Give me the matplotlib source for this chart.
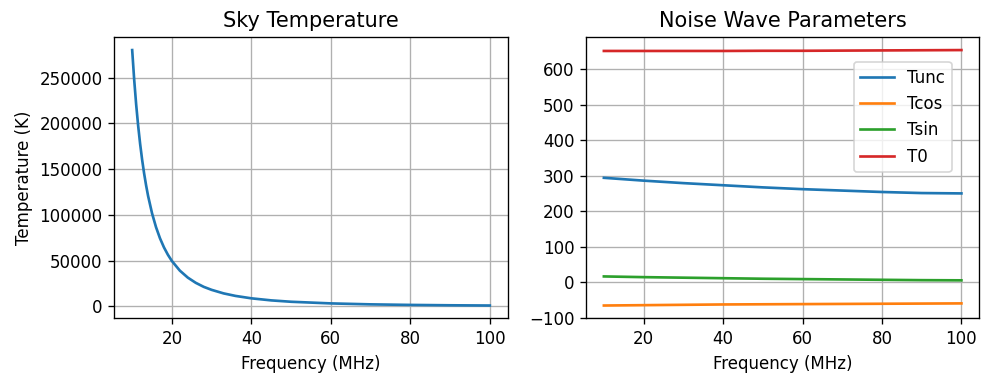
import matplotlib
matplotlib.use("Agg")
import matplotlib.pyplot as plt

# Sky temperature
sky_freq = [10, 10.5, 11, 11.5, 12, 12.5, 13, 13.5, 14, 15, 16, 17, 18, 19,
            20, 22, 24, 26, 28, 30, 33, 36, 40, 45, 50, 60, 70, 80, 90, 100]
sky_temp = [280000, 247850, 220600, 197430, 177500, 160280, 145300, 132230,
            120700, 101600, 86500, 74310, 64400, 56270, 49500, 39000, 31380,
            25690, 21300, 18000, 14150, 11390, 8750, 6500, 5000, 3200, 2160,
            1550, 1150, 885]

# Noise wave parameters
nw_freq = [10, 20, 30, 40, 50, 60, 70, 80, 90, 100]
tunc = [294, 286, 279, 273, 267, 262, 258, 254, 251, 250]
tcos = [-66, -65, -64, -63, -62.5, -62, -61.5, -61, -60.5, -60]
tsin = [16, 14, 12.5, 11, 9.5, 8.5, 7.5, 6.5, 5.5, 5]
t0 = [651.5, 651.5, 651.5, 651.5, 652, 652, 652.5, 653, 653.5, 654]


def main():
    plt.rcParams.update({
        "font.family": "DejaVu Sans",
        "font.size": 10,
        "axes.titlesize": 12.5,
        "axes.labelsize": 10,
        "xtick.labelsize": 10,
        "ytick.labelsize": 10,
        "legend.fontsize": 10,
        "lines.linewidth": 1.6,
    })
    fig = plt.figure(figsize=(997 / 120, 384 / 120), dpi=120)
    ax1 = fig.add_axes([114.3 / 997, 1 - 318.3 / 384, 393.4 / 997, 281 / 384])
    ax2 = fig.add_axes([586 / 997, 1 - 318.3 / 384, 393.3 / 997, 281 / 384])

    ax1.plot(sky_freq, sky_temp)
    ax1.set_title("Sky Temperature")
    ax1.set_xlabel("Frequency (MHz)")
    ax1.set_ylabel("Temperature (K)")
    ax1.grid(True)

    ax2.plot(nw_freq, tunc, label="Tunc")
    ax2.plot(nw_freq, tcos, label="Tcos")
    ax2.plot(nw_freq, tsin, label="Tsin")
    ax2.plot(nw_freq, t0, label="T0")
    ax2.set_title("Noise Wave Parameters")
    ax2.set_xlabel("Frequency (MHz)")
    ax2.grid(True)
    ax2.legend(loc="upper right", bbox_to_anchor=(0.951, 0.942))

    for ax in (ax1, ax2):
        ax.set_xticks([20, 40, 60, 80, 100])

    fig.savefig("out.png", dpi=120)


if __name__ == "__main__":
    main()
